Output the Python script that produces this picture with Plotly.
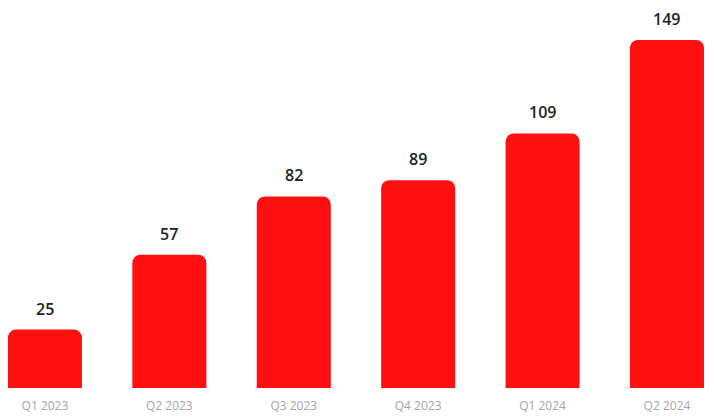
import plotly.graph_objects as go

quarters = ['Q1 2023', 'Q2 2023', 'Q3 2023', 'Q4 2023', 'Q1 2024', 'Q2 2024']
values = [25, 57, 82, 89, 109, 149]

fig = go.Figure()
fig.add_trace(go.Bar(
    x=quarters, y=values,
    marker=dict(color='#FF1010', line=dict(width=0)),
    hoverinfo='x+y',
))

# value labels above the bars
for q, v in zip(quarters, values):
    fig.add_annotation(
        x=q, y=v, text=str(v), showarrow=False,
        yanchor='bottom', yshift=8,
        font=dict(family='Open Sans', size=16, weight=600, color='#222222'),
    )

# the page puts the figure 8px in from the top-left corner
fig.update_layout(
    width=706, height=409,
    margin=dict(l=0, r=0, t=0, b=29),
    paper_bgcolor='white', plot_bgcolor='white',
    bargap=0.405, barcornerradius=8,
    showlegend=False,
    xaxis=dict(
        range=[-0.297, 5.378], showgrid=False, zeroline=False, showline=False,
        ticks='outside', ticklen=7, tickcolor='rgba(0,0,0,0)',
        tickfont=dict(family='Open Sans', size=12, color='#a6a6a6'),
    ),
    yaxis=dict(range=[0, 162.7], visible=False),
)

fig.write_html("out.html")
